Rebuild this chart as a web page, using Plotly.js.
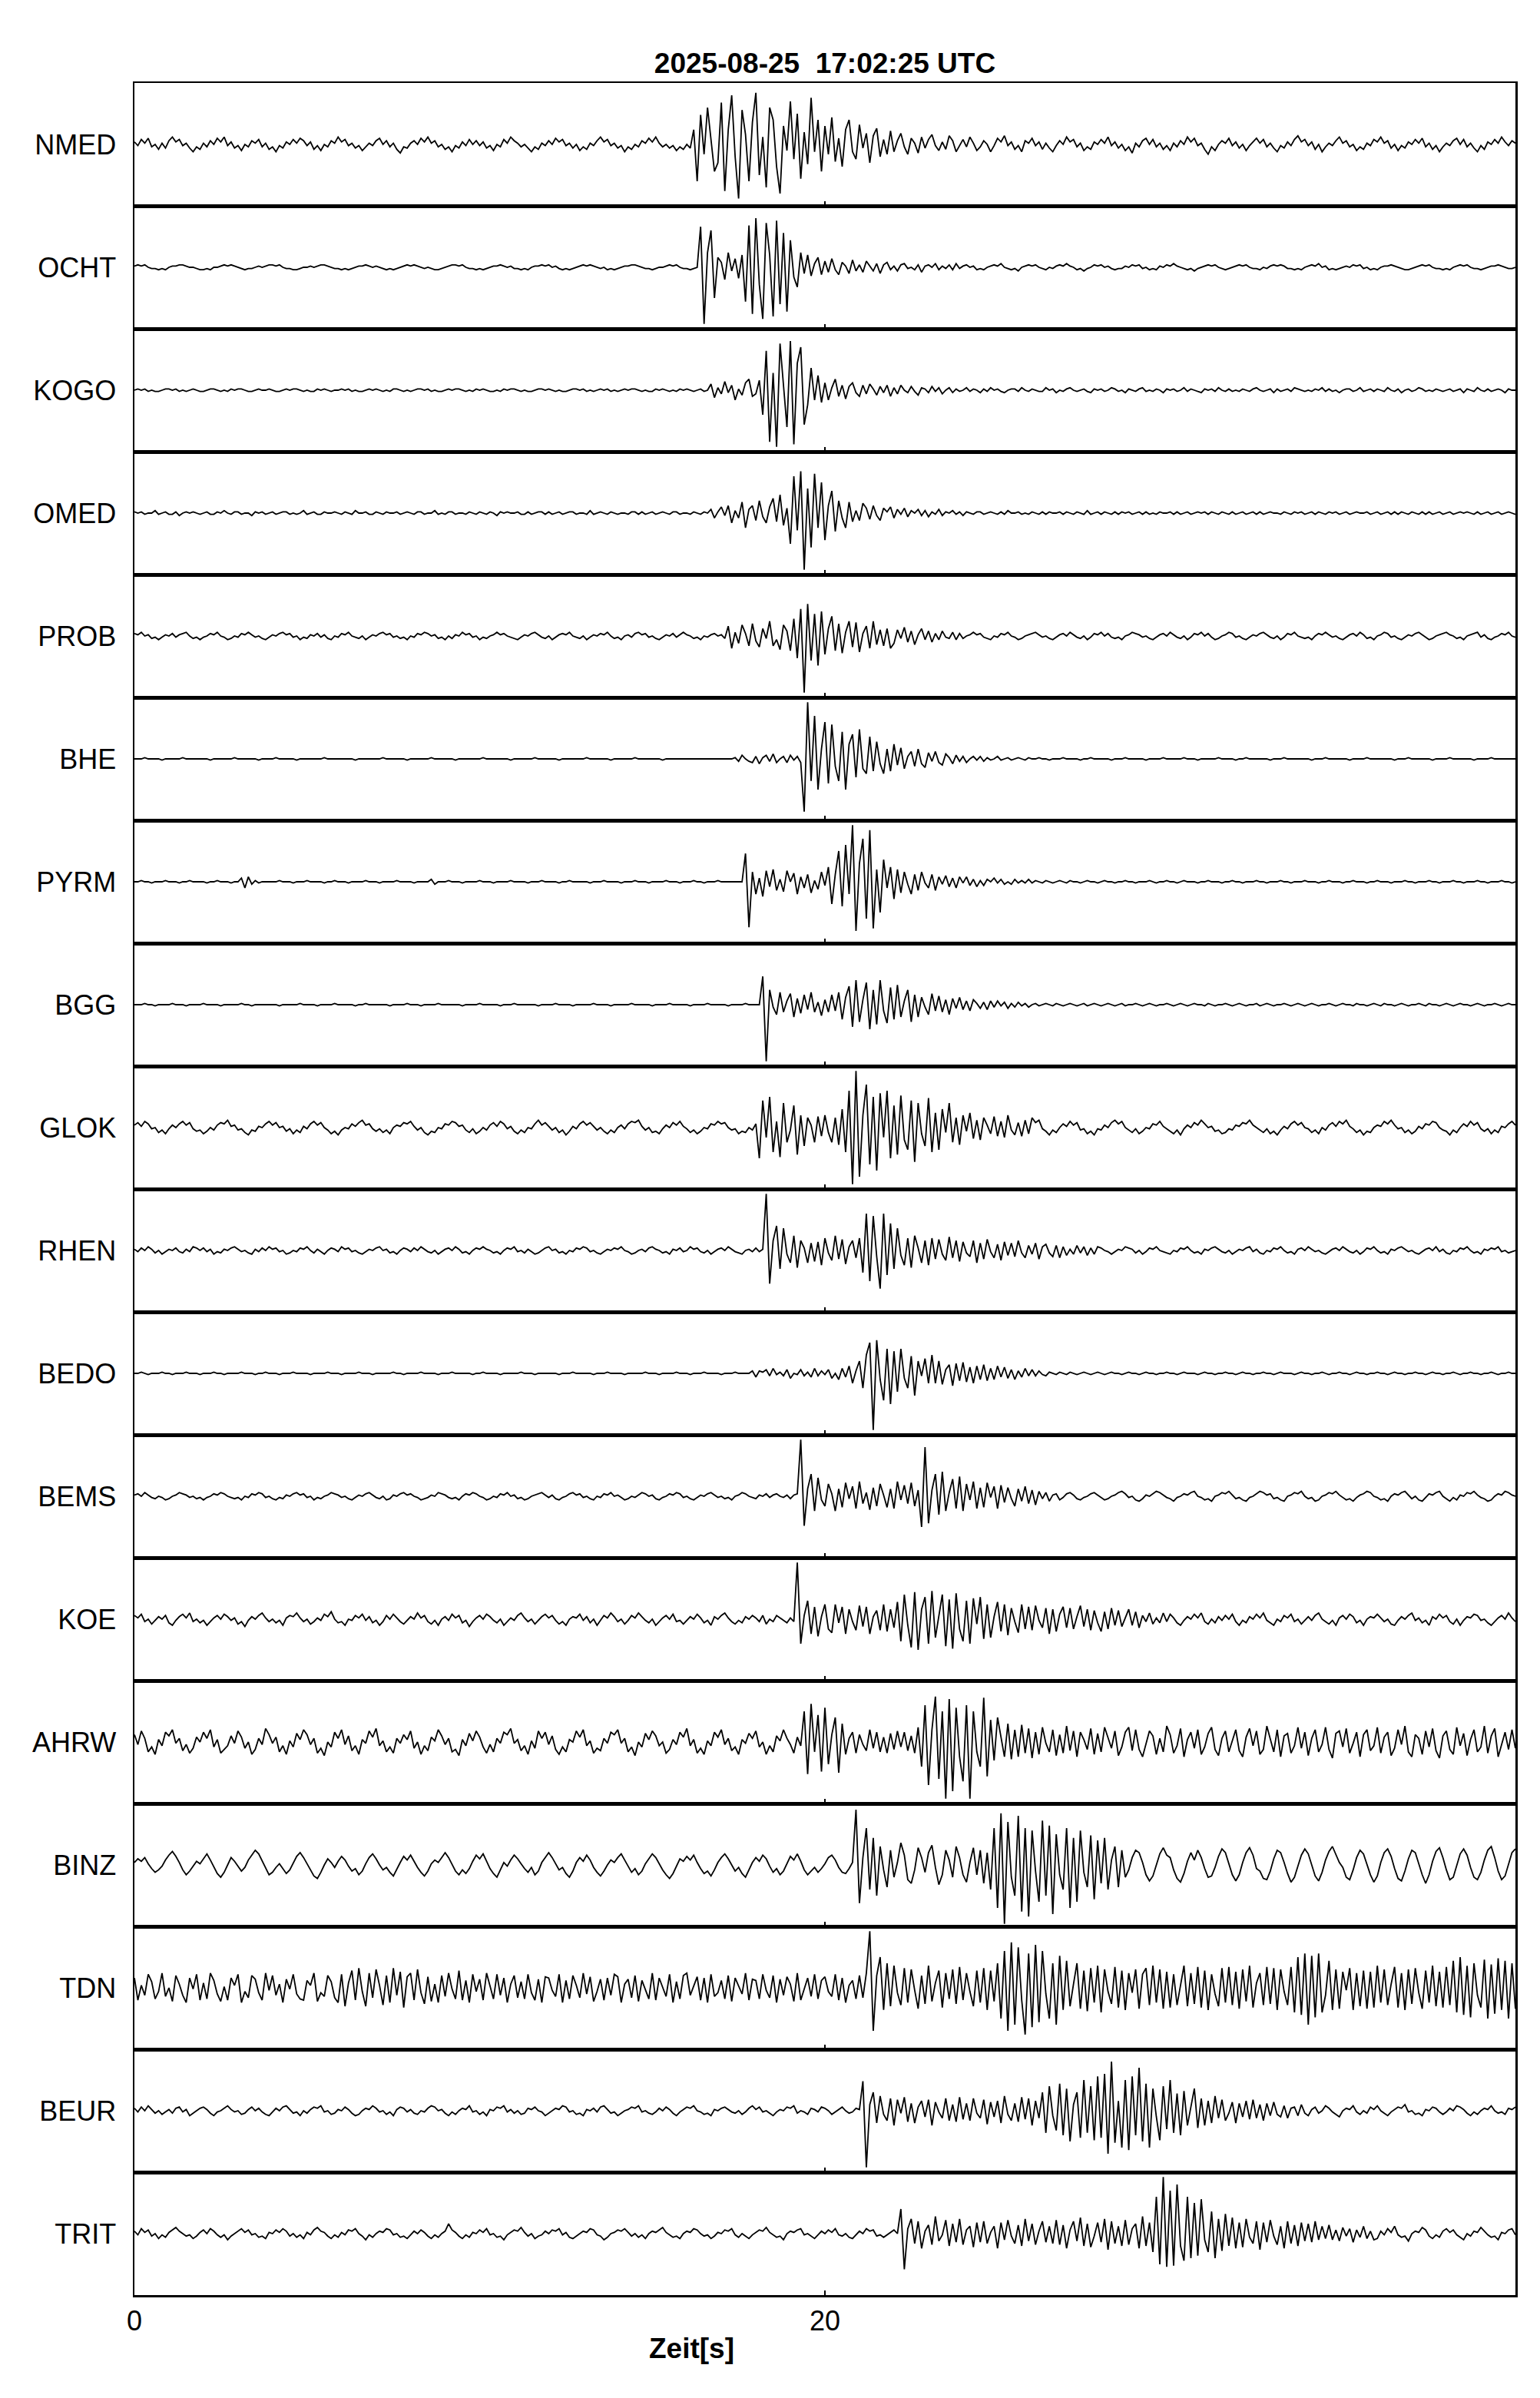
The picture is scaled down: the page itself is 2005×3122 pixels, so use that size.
<!DOCTYPE html>
<html><head><meta charset="utf-8">
<script src="https://cdn.plot.ly/plotly-3.0.1.min.js"></script>
<style>html,body{margin:0;padding:0;background:#fff}</style>
</head><body><div id="chart" style="width:2005px;height:3122px"></div>
<script>
// Station names, top to bottom
const stations = ['NMED','OCHT','KOGO','OMED','PROB','BHE','PYRM','BGG','GLOK','RHEN','BEDO','BEMS','KOE','AHRW','BINZ','TDN','BEUR','TRIT'];
// Sample interval of the traces (s); traces start at t = 0
const sampleInterval = 0.1;
// x-axis ticks
const xTickVals = [0, 20];
const xTickText = ['0', '20'];

// Relative amplitudes (panel half-height = 50)
const NMED = [
2,-1,4,1,5,-2,0,-4,1,-3,3,6,2,4,-1,1,-3,-6,-2,-4,
1,-2,3,0,5,2,6,-1,2,-3,-1,-5,0,-2,3,1,4,-2,1,-4,
-2,-6,-1,-3,2,0,4,1,5,3,-1,2,-4,-1,-5,0,-2,3,1,6,
2,4,-1,1,-3,-1,-5,-2,1,-1,3,5,0,3,-2,1,-4,-7,-2,-3,
1,3,0,5,2,6,1,3,-2,0,-4,-2,-6,-1,-3,2,-1,4,0,3,
-1,2,-3,-1,-5,0,-2,4,1,6,3,1,-2,0,-3,-6,-2,-4,1,-1,
3,0,5,2,4,-1,1,-3,0,-5,-2,-4,1,-1,3,6,2,4,-1,1,
-3,-1,-6,-2,-4,0,-2,3,1,5,2,6,1,-2,0,-3,-1,-5,-2,-4,
0,-3,12,-30,24,-8,30,5,-22,-15,34,-38,12,40,-10,-44,28,8,-30,18,
42,-25,6,-35,30,20,-18,-40,15,-5,35,-12,25,-28,10,-16,38,-6,20,-22,
15,-8,22,-14,5,-18,12,20,-6,-12,16,-3,9,-15,7,13,-10,4,-8,11,
-6,3,9,-2,-8,5,1,-7,6,-3,4,8,-1,-5,2,-4,7,3,-6,-1,
4,-2,6,1,-5,-2,3,0,-6,-1,5,2,7,-1,2,-4,-1,-6,3,1,
5,-1,2,-4,1,-3,-6,-1,3,0,6,2,4,-2,1,-5,-2,-4,2,0,
4,1,6,-1,2,-3,0,-5,-2,-7,1,-2,3,5,0,4,-2,1,-4,-1,
-5,1,-2,3,0,6,2,5,-1,1,-4,-8,-2,-5,0,3,1,5,-1,2,
-3,0,-5,-1,2,5,1,4,-2,1,-3,-6,-1,-3,2,-1,4,7,2,4,
-1,2,-4,0,-6,-2,1,-1,3,6,1,3,-2,0,-5,-2,-4,1,-1,4,
2,6,1,3,-3,0,-5,-1,-3,2,0,4,1,5,-2,1,-4,-1,-6,-2,
1,-1,3,5,0,4,-2,1,-3,-6,-1,-4,2,0,4,1,6,2,-1,3,
1];
const OCHT = [
1,2,1,2,0,-1,-1,-2,-1,-2,0,1,1,2,2,1,0,0,-1,-2,
-2,-1,-2,0,0,1,2,1,2,1,0,-1,-2,-1,-1,0,1,0,1,2,
2,1,2,0,-1,-1,-2,-2,-1,0,0,1,0,1,2,2,1,0,-1,-1,
-2,-1,-2,-1,0,1,1,2,1,0,1,0,-1,-2,-1,-2,-1,0,1,2,
1,2,1,0,-1,0,-1,-2,-2,-1,0,1,2,2,1,2,0,-1,-1,-2,
-1,-2,-1,0,1,1,2,1,0,1,-1,-1,-2,-1,-2,0,1,1,2,1,
2,0,1,-1,-2,-1,-2,-1,0,1,2,1,2,1,0,-1,0,-2,-1,-2,
-1,0,1,1,2,2,1,0,-1,-1,-2,-1,0,0,1,2,1,2,0,-1,
-1,-2,-1,0,33,-46,12,30,-25,8,4,-10,12,-3,7,-9,10,-28,34,-38,
40,-14,-42,36,10,-40,38,-30,28,-36,22,-8,-16,12,-5,10,-7,3,8,-6,
5,-4,7,-2,-6,4,1,-5,6,-3,2,-4,5,1,-3,3,-5,2,4,-2,
1,-3,2,3,-1,0,-2,2,-4,1,2,0,3,-2,1,-1,2,-2,3,-1,
1,2,0,1,-2,-1,-2,0,1,2,1,3,0,-1,-2,-1,-3,0,1,2,
1,2,0,-1,-2,0,-1,1,2,1,3,1,0,-2,-1,-3,-1,0,2,1,
2,0,1,-1,-2,-1,-1,1,0,2,1,2,-1,0,-2,-1,-2,1,0,2,
1,3,1,0,-1,-2,-1,-3,-1,0,1,2,1,2,0,-1,-2,-1,0,1,
2,1,2,0,-1,-1,-2,0,-1,1,2,1,2,1,-1,-1,-2,-1,-2,0,
1,2,1,3,0,1,-2,-1,-2,-1,0,1,0,2,1,2,-1,0,-2,-1,
-2,0,1,1,2,1,0,-1,-2,-2,-1,0,1,2,1,2,0,-1,-1,-2,
-1,-2,0,1,2,1,2,0,-1,-1,-2,-1,0,1,1,2,1,0,-1,-1,
0];
const KOGO = [
0,1,0,1,-1,0,-1,-1,0,1,1,0,1,-1,0,-1,0,1,0,-1,
-1,0,1,1,0,-1,0,-1,1,0,1,1,0,-1,-1,0,1,0,0,1,
0,-1,-1,0,1,0,1,1,0,-1,0,-1,-1,1,0,1,0,-1,0,0,
1,0,1,-1,0,-1,-1,0,1,0,1,0,-1,0,-1,1,1,0,-1,0,
-1,0,1,1,0,1,-1,0,-1,-1,0,1,0,1,1,0,-1,0,-1,1,
0,1,0,-1,-1,0,-1,1,0,1,1,0,-1,0,-1,-1,0,1,1,0,
1,0,-1,0,-1,-1,0,1,1,0,1,-1,0,-1,0,1,0,1,-1,0,
-1,0,1,0,1,1,0,-1,0,-1,-1,1,0,1,0,-1,0,-1,1,0,
1,0,-1,0,1,-1,0,5,-6,2,-3,7,-2,4,-8,1,-4,6,9,-5,
-3,8,-20,32,-42,14,-46,38,6,-30,40,-44,22,35,-28,-12,18,-8,12,-10,
6,-8,2,9,-5,4,-7,3,6,-2,-5,4,-3,5,1,-4,3,-2,4,-5,
2,-3,4,0,-2,3,-1,-4,2,1,-2,3,-1,2,-3,0,2,-2,1,-1,
0,2,-1,1,0,-2,1,-1,2,0,1,-1,-2,0,1,1,-1,2,0,-1,
1,0,-1,-1,2,0,1,-2,0,-1,1,2,0,-1,0,1,-1,-2,1,0,
1,-1,0,2,1,-1,0,-2,1,0,-1,1,2,-1,0,-1,1,0,-2,1,
0,1,-1,0,2,-1,1,0,-1,-2,1,0,1,-1,2,0,-1,1,-1,0,
-1,1,0,-1,1,2,0,-1,0,1,-2,1,-1,0,1,-1,2,1,0,-1,
0,-1,1,0,2,-1,1,-1,0,-2,0,1,1,-1,0,2,-1,0,1,-1,
1,0,-1,2,0,-1,1,-2,0,1,-1,0,2,1,-1,0,-1,1,0,-1,
0,1,-1,0,1,-2,1,0,-1,2,0,-1,1,-1,0,1,0,-2,1,0,
0];
const OMED = [
1,0,1,-1,0,0,2,-1,0,1,-1,-1,1,-2,0,1,0,1,0,-1,
0,1,-1,-1,1,0,2,0,-1,1,1,-1,0,0,-2,1,0,1,-1,0,
1,-1,0,1,1,-1,0,-1,0,2,-1,0,1,-1,-1,1,0,0,1,0,
-1,1,0,-1,2,0,0,1,-1,-1,1,0,-1,1,0,0,1,-1,0,1,
0,-1,1,1,-1,0,0,2,-1,0,-1,1,1,-1,0,0,-1,1,0,-1,
1,0,-1,1,0,-2,1,0,1,0,0,1,-1,-1,1,-1,0,1,1,-1,
1,-1,0,1,-1,0,1,1,-1,0,0,-1,2,-1,0,1,0,-1,1,0,
-1,0,0,-1,1,1,-1,1,-1,0,1,-1,0,1,0,-1,1,1,-1,0,
0,-1,1,0,-1,1,0,3,-4,1,5,-2,6,-8,2,-4,9,-12,3,6,
-6,10,-3,-8,5,12,-7,15,-10,4,-25,30,-14,34,-46,20,-28,32,-12,25,
-22,6,18,-15,10,-4,-12,9,-7,2,-6,8,4,-5,6,-2,-6,4,1,5,
-4,3,-1,4,-3,2,0,3,-2,2,-3,1,-1,3,-2,1,0,2,-1,1,
-2,1,0,-1,1,1,-1,0,1,0,-1,1,-1,2,0,0,1,-1,0,-1,
1,0,-1,1,-1,1,0,0,1,-1,1,0,-1,1,0,-1,2,-1,0,1,
-1,1,0,-1,1,-1,1,0,1,-1,0,1,-1,1,-1,0,-1,1,0,0,
1,-1,1,-1,0,1,-1,0,1,0,1,-1,1,0,-1,1,0,-1,1,-1,
0,1,-1,0,1,-1,1,-1,0,1,0,0,-1,1,0,-1,1,0,1,-1,
0,1,-1,1,0,-1,1,0,1,-1,0,1,-1,0,1,0,0,1,-1,0,
1,-1,0,1,-1,1,-1,1,0,-1,1,0,-1,1,-1,1,-1,0,1,-1,
0,1,-1,0,1,0,1,0,-1,1,-1,0,1,-1,0,1,-1,0,1,0,
-1];
const PROB = [
2,1,3,0,1,-2,-1,-3,-1,1,0,2,-1,1,2,3,0,-2,-1,-3,
-1,0,2,1,3,0,-1,-3,-2,0,-1,2,1,3,1,-1,0,-2,-3,-1,
1,0,2,3,1,2,-1,0,-3,-1,-2,1,0,2,-1,1,-2,-3,0,-1,
2,1,3,0,-1,-2,0,-3,-1,1,0,2,3,1,2,-1,0,-2,-1,-3,
0,-1,2,1,3,2,0,1,-2,-1,-3,0,-2,1,0,3,1,2,-1,0,
-3,-1,-2,0,1,3,1,2,0,-1,-2,-3,-1,1,0,2,3,1,-1,-2,
0,-3,-1,1,2,1,3,0,-1,-2,0,-3,-1,1,0,2,1,3,0,-2,
-1,-3,0,1,-1,2,3,1,2,-1,0,-2,-3,-1,1,0,2,-1,1,3,
1,0,-2,-1,-3,0,-1,1,2,0,1,-2,8,-10,3,-6,9,2,-8,10,
-4,-9,6,-2,12,-8,-3,-11,9,4,-12,14,-18,22,-46,26,-20,18,-24,20,
-15,6,16,-12,10,-14,3,12,-9,11,-13,2,8,-10,12,-7,5,-8,6,-10,
-6,5,-2,7,-5,4,-7,1,6,-3,4,-5,2,-3,4,-1,-2,3,-3,2,
-2,0,1,3,1,2,-1,-2,-3,0,-1,2,1,3,0,-1,-3,-2,0,1,
2,3,1,-1,0,-2,-3,-1,1,2,0,3,1,-1,-2,0,-3,-1,2,1,
3,0,2,-1,-2,-1,-3,0,1,3,2,1,-1,0,-2,-3,-1,1,2,0,
3,1,-1,-2,0,-3,-1,2,1,3,0,2,-1,-3,-2,0,1,3,2,-1,
0,-2,-3,-1,1,0,2,3,1,-1,-2,0,-3,-1,2,1,3,0,-1,-2,
-1,-3,0,2,1,3,1,-1,0,-2,-3,-1,1,2,0,3,1,-2,-1,-3,
0,1,3,2,-1,0,-2,-3,-1,1,0,2,3,1,-1,-3,-2,0,1,2,
3,1,0,-2,-1,-3,0,1,2,3,-1,1,-2,-3,-1,0,2,1,3,0,
-1];
const BHE = [
0,0,0,1,0,0,0,0,-1,0,0,0,0,0,1,0,0,0,0,0,
0,0,-1,0,0,0,0,0,0,1,0,0,0,0,0,0,-1,0,0,0,
0,1,0,0,0,0,0,-1,0,0,0,0,0,0,0,1,0,0,0,0,
0,0,0,0,-1,0,0,0,0,0,0,0,1,0,0,0,0,0,0,-1,
0,0,0,0,0,0,1,0,0,0,0,0,0,-1,0,0,0,0,0,0,
0,1,0,0,0,0,0,0,0,-1,0,0,0,0,0,0,1,0,0,0,
0,0,0,-1,0,0,0,0,0,0,0,1,0,0,0,0,0,0,-1,0,
0,0,0,0,0,1,0,0,0,0,0,0,0,-1,0,0,0,0,0,0,
0,0,0,0,0,0,0,0,0,0,0,0,0,0,1,-2,3,0,-2,-3,
2,-4,1,3,-2,4,-3,0,2,-3,3,-1,2,-3,-43,46,-18,35,-25,8,
30,-20,28,-6,-18,22,-25,12,20,-15,24,-8,-12,18,-10,14,-4,-12,8,-10,
12,-5,9,-8,2,6,-6,8,-4,-7,5,-2,6,-3,-5,4,1,-4,3,-2,
2,-3,0,2,-1,2,-2,1,-1,0,2,-1,0,1,-1,0,1,0,-1,1,
0,0,1,0,0,-1,0,0,0,1,0,0,0,0,-1,0,0,1,0,0,
0,0,0,-1,0,0,0,1,0,0,0,0,0,-1,0,0,0,0,1,0,
0,0,0,0,1,0,0,0,-1,0,0,0,0,0,1,0,0,0,0,-1,
0,0,1,0,0,0,0,0,0,-1,0,0,0,1,0,0,0,0,0,0,
0,-1,0,0,0,1,0,0,0,0,0,0,-1,0,0,0,0,1,0,0,
0,0,0,0,0,-1,0,0,0,1,0,0,0,0,0,0,-1,0,0,0,
0,1,0,0,0,0,0,0,-1,0,0,0,0,1,0,0,0,0,0,0,
0];
const PYRM = [
0,0,1,0,0,-1,0,0,0,1,0,0,0,-1,0,0,1,0,0,0,
0,-1,0,0,1,0,0,0,-1,0,0,3,-5,4,-2,1,-1,0,0,0,
0,0,1,0,0,0,-1,0,0,0,1,0,0,0,0,-1,0,0,1,0,
0,0,-1,0,0,0,0,1,0,0,0,-1,0,0,0,0,1,0,0,0,
0,-1,0,0,0,0,2,-2,0,0,0,1,0,0,0,-1,0,0,0,0,
1,0,0,0,-1,0,0,0,0,1,0,0,0,0,-1,0,0,0,1,0,
0,0,0,-1,0,0,1,0,0,0,0,0,-1,0,0,0,1,0,0,0,
0,-1,0,0,0,1,0,0,0,-1,0,0,0,0,1,0,0,0,-1,0,
0,0,1,0,0,-1,0,0,0,1,0,0,0,0,0,0,0,23,-37,8,
-10,3,-12,9,-4,10,-7,2,-8,9,0,7,-10,4,-5,6,-9,1,-6,8,
-3,12,-18,6,25,-20,30,-10,46,-40,15,35,-30,42,-38,10,-25,18,-5,12,
-14,10,-9,8,-2,-10,6,-7,8,-1,-5,6,-7,4,-2,5,-4,3,-5,4,
-1,4,-3,2,-4,1,-3,2,0,3,-1,2,-2,0,-2,2,-1,1,-1,2,
-1,1,0,-1,1,0,-1,0,1,0,-1,1,0,0,-1,0,1,0,0,-1,
0,1,0,0,-1,0,0,1,0,0,-1,0,0,0,1,0,-1,0,0,1,
0,0,-1,0,1,0,0,0,-1,0,0,1,0,0,0,-1,0,0,1,0,
0,-1,0,0,0,1,0,0,-1,0,0,0,1,0,0,-1,0,0,0,1,
0,0,0,-1,0,0,1,0,0,0,-1,0,0,1,0,0,0,-1,0,0,
1,0,0,0,-1,0,0,0,1,0,0,-1,0,0,0,1,0,0,-1,0,
0,0,1,0,0,-1,0,0,0,1,0,0,-1,0,0,0,1,0,0,-1,
0];
const BGG = [
0,0,0,1,0,0,-1,0,0,0,0,1,0,0,0,-1,0,0,0,0,
1,0,0,0,0,-1,0,0,0,0,0,1,0,0,-1,0,0,0,0,0,
0,0,-1,0,0,0,0,0,1,0,0,0,0,-1,0,0,0,0,1,0,
0,0,0,0,-1,0,0,1,0,0,0,0,0,0,-1,0,0,0,0,1,
0,0,0,-1,0,0,0,0,1,0,0,0,0,0,0,-1,0,0,0,0,
1,0,0,0,0,0,-1,0,0,0,1,0,0,0,0,0,0,-1,0,0,
0,0,1,0,0,0,0,-1,0,0,0,0,0,1,0,0,0,0,-1,0,
0,0,0,0,1,0,0,0,0,0,-1,0,0,0,0,1,0,0,0,0,
0,-1,0,0,0,0,1,0,0,0,0,0,-1,0,0,0,0,1,0,0,
0,0,23,-46,12,-2,-8,10,-6,3,9,-10,5,-7,8,-4,10,-6,2,-9,
4,-6,8,-5,10,-12,6,15,-18,20,-14,4,18,-20,12,-16,20,-5,-15,14,
-12,16,-10,3,12,-14,8,-10,6,-2,-8,9,-5,7,-6,4,-8,5,-3,6,
-4,3,-5,4,1,-3,2,-4,3,-2,3,-1,2,-3,1,-2,2,-1,1,-2,
0,1,-1,0,1,0,-1,1,0,-1,0,1,0,-1,0,1,-1,0,1,0,
-1,0,1,0,-1,0,1,-1,0,0,1,0,-1,0,1,0,-1,0,0,1,
0,-1,0,1,0,-1,0,1,0,0,-1,1,0,-1,0,0,1,0,-1,0,
1,0,-1,0,0,1,-1,0,1,0,-1,0,0,1,0,-1,0,1,0,-1,
0,1,0,-1,0,0,1,0,-1,0,1,0,0,-1,1,0,0,-1,0,1,
0,-1,1,0,0,-1,0,1,0,-1,0,0,1,0,-1,1,0,0,-1,0,
1,0,-1,0,1,0,0,-1,0,1,0,-1,0,0,1,0,-1,0,1,0,
0];
const GLOK = [
2,4,1,5,3,-1,0,-4,-2,-5,-1,2,0,3,5,2,4,-1,-3,-2,
-5,-3,0,-2,2,4,3,6,1,2,-2,-1,-4,-6,-2,-3,1,0,3,5,
2,4,0,1,-3,-1,-5,-2,-4,1,-1,3,5,2,4,0,-2,-5,-3,-6,
-2,0,-1,3,1,4,6,2,3,-1,-3,-1,-4,-2,-5,0,2,1,4,3,
5,1,-2,0,-4,-6,-3,-4,0,-1,3,2,5,4,1,2,-2,-4,-1,-5,
-3,0,-2,2,4,1,5,3,-1,1,-3,-5,-2,-4,0,-1,3,6,2,4,
1,-2,0,-4,-2,-6,-3,1,-1,3,5,2,4,1,-2,0,-3,-5,-2,-4,
0,2,-1,3,5,4,6,1,-2,0,-4,-3,-5,-1,2,0,4,2,5,1,
-1,-4,-2,-5,-3,0,-1,3,2,5,3,4,0,-2,-1,-5,-3,-4,0,-2,
3,-25,22,-8,25,-20,5,-24,20,-12,-2,18,-22,10,-15,8,2,-12,9,-7,
10,-4,-12,8,-14,15,-20,30,-46,46,-40,10,35,-30,25,-35,28,-8,30,-25,
18,-22,26,-10,-18,22,-28,20,-5,-15,24,-20,12,-18,15,-4,20,-12,8,-14,
10,-3,12,-9,6,-10,8,2,-5,9,-7,5,-8,10,-2,-6,4,-7,6,-5,
8,4,6,-1,-3,-6,-2,-4,0,3,1,5,2,4,-2,-1,-5,-3,-6,-1,
-2,2,0,4,6,3,5,0,-2,-4,-1,-5,-3,0,-1,3,2,5,1,-1,
-3,-5,-2,-6,-1,2,0,4,2,6,3,0,1,-3,-2,-5,-4,-1,-2,2,
1,4,3,6,2,0,-2,-4,-1,-5,-3,-6,-2,1,-1,3,5,2,4,0,
-1,-4,-2,-5,0,-2,2,4,1,5,3,6,1,-1,-4,-2,-6,-3,-4,0,
2,1,5,3,6,2,-1,0,-4,-2,-5,-3,1,-1,3,2,5,4,0,-2,
-3,-6,-2,-4,0,3,1,5,2,4,-1,-3,-1,-5,-2,-4,1,0,3,5,
2];
const RHEN = [
1,-1,2,0,3,1,-2,0,-3,-1,1,0,2,-1,-2,1,-1,3,2,0,
2,-1,1,-3,-1,-2,1,0,2,3,1,-1,0,-2,-3,1,-1,2,0,3,
1,2,-1,0,-3,-2,0,-1,2,1,3,0,-2,1,-1,-3,0,2,1,-1,
3,1,2,-1,0,-2,-3,-1,1,0,2,3,0,1,-2,-1,-3,0,2,1,
-1,2,0,3,1,-1,-2,0,-3,-1,1,2,0,3,1,-2,-1,-3,0,2,
1,3,1,0,-2,-1,-3,0,2,1,3,-1,0,-2,1,-1,-3,-2,0,2,
3,0,1,-2,-1,-3,0,-1,2,1,3,2,-1,0,-2,-3,-1,1,0,2,
1,3,0,-1,-3,-2,0,1,-1,2,3,1,0,-2,-1,-3,1,0,2,-1,
0,3,1,2,-1,-2,0,-3,-1,1,2,0,3,1,-1,-2,-3,0,1,-1,
2,-1,1,46,-27,8,20,-15,18,-3,-10,12,-14,8,2,-10,6,-9,7,-12,
10,-2,-8,12,-7,9,-11,3,8,-6,10,-18,30,-25,28,-5,-31,30,-20,22,
-15,18,-4,-12,10,-14,12,2,-10,8,-12,10,-7,9,-3,-8,11,-6,8,-9,
7,-2,-5,8,-10,6,-7,9,-1,-6,5,-8,7,-4,6,-5,8,-2,-6,4,
-3,6,-7,3,5,-2,-5,4,-6,3,-4,1,-3,4,-2,3,-4,2,-3,3,
2,0,-1,-3,-1,1,0,3,2,1,-2,0,-3,-1,2,1,3,0,-1,-2,
-3,0,-1,2,1,3,0,-2,-1,-3,1,0,2,3,1,-1,-2,0,-3,-1,
1,0,2,3,-1,1,-2,-3,0,-1,2,1,3,0,-2,-1,-3,1,2,0,
3,1,-1,0,-2,-3,-1,1,2,0,3,1,-1,-2,0,-3,-1,2,1,3,
0,-2,-1,-3,1,0,2,3,1,-1,0,-2,-3,-1,1,2,0,3,-1,1,
-2,-3,0,-1,2,1,3,0,-2,-1,-3,1,0,2,1,3,-1,0,-2,-1,
0];
const BEDO = [
0,0,1,0,-1,0,0,0,1,0,0,-1,0,0,0,1,0,0,0,-1,
0,0,0,1,0,0,-1,0,0,0,0,1,0,0,0,-1,0,0,1,0,
0,0,-1,0,0,0,1,0,0,0,0,-1,0,0,0,0,1,0,0,0,
-1,0,0,0,0,1,0,0,0,-1,0,0,0,0,0,1,0,0,-1,0,
0,0,0,1,0,0,0,0,-1,0,0,0,1,0,0,0,0,0,-1,0,
0,1,0,0,0,0,-1,0,0,0,0,0,1,0,0,0,-1,0,0,0,
0,0,0,-1,0,0,0,1,0,0,0,0,0,-1,0,0,0,1,0,0,
0,0,-1,0,0,0,0,0,1,0,0,0,-1,0,0,0,0,1,0,0,
0,-1,0,0,0,1,0,0,0,0,-1,0,0,0,1,0,0,0,0,2,
-3,2,1,3,-2,4,-1,1,-2,3,-4,0,-1,3,-2,1,-3,4,-2,2,
-1,3,-4,0,-5,4,-3,6,-8,2,10,-12,15,25,-46,27,-5,-22,20,-25,
18,-15,20,-4,-12,14,-18,10,-2,12,-8,15,-8,10,-9,3,7,-10,8,-6,
9,-7,5,-8,6,-5,7,-6,4,-5,6,-3,5,-4,3,-5,2,-3,4,-2,
3,-2,2,-1,-2,1,0,-1,1,0,-1,1,0,-1,0,1,0,-1,0,1,
0,-1,0,1,0,0,-1,0,1,0,0,-1,0,1,0,0,-1,0,0,1,
0,0,-1,0,1,0,0,0,-1,0,1,0,0,-1,0,0,1,0,0,-1,
0,1,0,0,-1,0,0,1,0,0,-1,0,1,0,0,0,-1,0,1,0,
0,-1,0,0,1,0,-1,0,0,1,0,0,-1,0,1,0,0,-1,0,0,
1,0,0,-1,0,1,0,0,-1,0,0,1,0,0,-1,0,1,0,0,-1,
0,0,1,0,-1,0,0,1,0,0,-1,0,0,1,0,-1,0,0,1,0,
0];
const BEMS = [
1,2,0,3,1,-1,-2,0,-1,-3,-2,0,1,3,2,1,-1,0,-2,-1,
-3,-1,0,2,1,3,2,0,-1,-2,-1,-3,0,-1,2,1,3,2,-1,0,
-2,-3,-1,-2,1,0,2,3,1,2,-1,0,-3,-1,-2,0,1,3,2,1,
-1,0,-2,-3,-1,1,0,2,3,1,-1,-2,0,-3,-2,1,0,2,3,1,
2,0,-1,-3,-2,-1,1,0,3,2,1,-1,-2,-1,-3,0,2,1,3,2,
0,-1,-3,-2,0,-1,2,1,3,0,1,-2,-1,-3,-2,0,1,2,3,1,
-1,1,-2,-3,-1,0,2,3,1,2,-1,0,-2,-3,0,-1,2,1,3,0,
1,-1,-3,-2,0,-1,1,3,2,0,1,-2,-3,-1,0,2,1,3,2,-1,
0,-2,-3,-1,1,0,2,3,1,-1,0,-2,-1,-3,0,1,3,2,0,-1,
-2,1,0,2,-1,1,2,0,-1,1,-2,1,2,46,-24,6,18,-12,15,-3,
-8,10,2,-12,6,-9,11,-2,8,-10,12,-6,3,-11,7,-8,10,1,-9,6,
-10,12,-3,9,-6,11,-8,5,-25,40,-22,5,18,-15,20,-12,3,14,-10,16,
-12,10,-3,12,-10,7,-9,11,-1,8,-10,9,-5,7,-2,-8,6,-4,8,-6,
5,-7,4,-2,3,-4,1,2,-3,-1,2,3,1,-2,-3,-1,0,2,3,1,
-1,-3,-2,0,1,3,4,2,-1,0,-3,-4,-2,1,0,2,4,3,1,-1,
-2,-4,-1,0,2,1,3,4,0,-1,-3,-2,-4,0,1,3,2,4,1,-2,
-1,-3,-4,-1,0,2,4,3,1,2,-2,-1,-3,-4,0,1,3,2,4,0,
-2,-1,-4,-3,0,1,3,2,4,1,-1,-3,-2,-4,-1,1,2,4,3,0,
-1,-3,-2,-4,0,2,1,3,4,1,-2,0,-3,-4,-1,2,1,3,4,0,
-2,-4,-1,-3,1,0,3,2,4,1,-1,-2,-4,-3,0,2,1,4,3,1,
0];
const KOE = [
3,1,4,-2,0,-4,-1,2,0,3,-3,-5,-1,2,4,1,5,-2,0,-3,
-1,-5,-2,1,3,0,4,2,-1,1,-4,-2,-6,-1,2,0,3,5,1,-2,
0,-3,-1,-5,1,3,2,5,1,-2,0,-4,-2,1,-1,4,2,6,0,-3,
-2,-5,0,-1,3,1,4,-1,2,-3,-1,-5,-2,3,0,4,1,-2,-4,-1,
2,0,5,1,3,-2,-4,-1,-5,0,2,-1,4,1,3,-3,-1,-6,-2,1,
3,0,4,2,-1,-3,0,-5,-2,1,-1,3,5,1,-2,0,-4,-1,2,4,
1,3,-1,-4,-2,-5,0,2,1,4,-1,2,-3,0,-5,-1,3,1,5,2,
-2,0,-4,-1,3,1,5,2,-1,-3,0,-5,-2,1,3,0,4,-2,-1,-4,
-1,2,0,4,1,-3,-1,-5,2,0,3,5,1,-2,-4,-1,-3,2,0,3,
1,-2,3,-4,0,-2,3,1,-1,-3,1,-2,46,-20,3,15,-12,10,-14,2,
12,-8,-11,12,-3,10,-12,8,-2,-9,11,-6,10,-12,2,7,-9,12,-10,8,
-7,14,-18,20,-5,-23,22,-25,8,18,-20,23,-15,3,20,-22,16,-24,21,-8,
-18,15,-20,17,-4,18,-16,12,-15,2,14,-10,12,-13,9,-2,-11,12,-8,10,
-9,11,-1,-7,9,-12,8,-10,4,10,-7,9,-8,2,11,-6,8,-9,7,-3,
-10,6,-8,9,-5,7,-6,1,8,-5,6,-7,3,-2,5,-4,1,-3,5,-2,
4,1,-3,-5,-1,2,0,4,1,5,-2,-4,0,-3,2,-1,3,0,4,-2,
-5,-1,-3,2,0,4,1,5,-1,-3,-5,0,-2,3,1,4,-2,0,-4,-1,
2,-1,3,5,0,-2,-4,-1,-5,1,3,0,4,2,-3,-1,-5,0,2,1,
4,1,-2,0,-4,-5,-1,2,0,3,5,-1,1,-3,-1,-5,2,0,4,1,
3,-2,-4,0,-5,-1,2,1,4,3,-1,0,-3,-5,-2,1,3,0,5,1,
-2];
const AHRW = [
6,-2,9,3,-8,-4,-10,2,-3,8,5,10,-1,3,-7,-2,-9,-5,4,0,
8,3,10,-4,2,-9,-6,-3,5,-1,9,4,-5,0,-10,-6,3,-2,11,6,
-1,4,-8,-3,-10,1,-4,7,2,10,6,-2,3,-9,-5,-11,0,-4,8,3,
10,-2,5,-7,-3,-10,2,-1,9,4,11,-3,1,-8,-4,-9,3,-1,6,2,
9,-5,0,-10,-3,-7,4,1,10,5,-2,3,-8,-6,-11,2,-3,7,1,9,
4,-4,-9,-2,-8,3,-1,8,6,11,-1,2,-7,-3,-10,1,-5,9,3,8,
-2,5,-6,-10,-4,-8,2,0,9,4,10,-3,1,-9,-5,-7,3,-1,8,6,
10,-1,3,-8,-4,-11,0,-4,7,2,9,5,-3,0,-9,-6,2,-2,8,4,
11,-3,2,-9,-5,-10,1,-3,8,4,10,-2,3,-7,-4,-10,2,-1,7,3,
9,-4,0,-10,-3,-8,5,1,10,3,-2,-9,4,-3,25,-26,31,-8,22,-24,
28,-18,6,20,-25,15,-10,3,8,-9,6,-2,-7,10,-5,8,-8,4,-9,7,
-6,9,-4,8,-7,5,-9,12,-20,30,-35,10,37,-30,25,-46,35,-40,28,-12,
-32,30,-46,25,-8,-20,36,-28,18,-15,20,4,-12,15,-14,10,-12,14,-9,11,
-13,8,-10,12,-1,-8,10,-11,6,-9,13,-7,9,-12,8,2,-6,11,-10,7,
-8,12,3,-5,9,-11,-4,8,12,-7,10,-6,-12,-2,9,5,-10,3,-8,13,
6,-9,-3,11,-12,2,8,-5,10,-10,-4,7,12,-6,-11,3,9,-8,1,10,
-7,-12,4,11,-3,9,-10,-6,13,2,-8,10,-12,5,7,-9,-3,12,-5,8,
-11,3,10,-8,-2,12,-6,-13,7,9,-4,11,-9,-1,8,-12,6,10,-7,-3,
12,-9,4,8,-11,-5,10,-2,13,-8,-12,6,3,-10,9,-4,11,-7,-13,5,
9,-6,-10,12,-3,7,-11,2,10,-8,-4,13,-9,5,11,-12,-2,8,-6,10,
-5];
const BINZ = [
2,5,3,6,1,-3,-6,-4,-1,4,8,11,7,2,-4,-8,-5,-1,3,1,
5,9,4,-2,-7,-10,-6,0,6,3,-1,-5,-2,4,8,12,9,3,-3,-8,
-6,-2,1,-3,-7,-4,2,7,10,6,1,-4,-9,-11,-6,0,5,2,-2,3,
7,4,-1,-5,-3,-8,-5,1,6,9,5,0,-4,-2,-6,-9,-3,2,7,4,
8,3,-2,-6,-9,-5,1,4,2,6,10,6,0,-5,-8,-4,-7,-3,3,8,
5,9,3,-3,-7,-10,-4,2,-1,4,8,5,1,-3,-6,-2,-8,-5,2,6,
10,6,1,-4,-2,-7,-10,-5,2,6,3,8,4,-2,-6,-9,-5,0,4,2,
6,9,4,-1,-6,-3,-8,-5,1,5,9,6,1,-4,-8,-11,-7,-1,5,3,
7,4,8,2,-3,-7,-5,-9,-4,2,6,9,5,0,-5,-2,-7,-10,-4,2,
6,3,8,5,-1,-6,-3,-8,-5,1,7,4,9,3,-4,-8,-5,-2,-6,-3,
1,6,8,4,-2,-6,-7,-3,2,45,-31,6,30,-20,22,-25,15,-4,-18,12,
-10,2,18,8,-12,-15,-4,14,6,-6,10,16,-2,-16,-8,12,4,-10,15,6,
-8,-14,2,14,-8,12,-15,10,-20,30,-35,42,-48,35,-10,-25,40,-38,30,-42,
28,-5,-30,36,-25,32,-40,25,-8,-20,30,-35,22,-30,28,-6,-18,24,-28,20,
-15,22,-20,4,15,-18,12,-10,-4,6,12,10,2,-8,-13,-9,0,9,14,8,
6,-4,-11,-14,-7,3,10,4,12,6,-3,-10,-9,-2,7,13,10,1,-8,-13,
-8,2,10,14,8,-3,-5,-11,-12,-5,5,12,10,2,-7,-14,-10,-1,8,13,
9,0,-9,-13,-6,4,11,15,8,2,-2,-10,-12,-4,6,12,9,0,-8,-14,
-9,2,10,13,7,-3,-11,-13,-5,5,12,10,1,-8,-15,-8,3,11,14,6,
-4,-12,-10,0,9,13,8,-2,-10,-12,-6,4,12,15,6,-5,-12,-9,1,10,
13];
const TDN = [
8,-10,2,-6,11,5,-9,-3,12,-7,0,-11,10,3,-6,-12,8,-1,11,-10,
4,-9,12,6,-5,-11,1,-10,8,2,11,-12,-3,-8,10,7,-4,-10,12,-2,
10,-6,3,-12,7,-1,11,-5,-9,-10,6,2,12,-11,-4,-7,10,5,-8,-12,
11,-15,4,14,-10,16,-3,-15,12,-8,15,2,-14,10,-12,16,-6,13,-16,9,
12,-10,15,-4,-13,9,-11,3,-12,10,-7,12,-1,-9,14,-10,6,-12,11,-3,
7,-10,12,1,-9,11,-6,8,-12,3,10,-8,5,-9,11,-4,-10,7,-12,9,
8,-2,-7,11,-12,6,-9,10,2,-8,12,-5,9,-11,-3,7,-10,8,-6,11,
9,-12,3,7,-8,10,-11,6,-2,-9,12,-10,8,1,-7,11,-12,5,-9,10,
12,-6,1,9,-10,8,-12,11,-7,-4,6,-9,10,-11,8,2,-5,12,-10,7,
6,-9,11,-2,-8,10,-12,7,-6,9,3,-11,12,-10,-1,8,-7,11,-9,6,
9,-3,-7,11,-10,8,-12,2,6,-9,10,-8,12,46,-35,10,25,-18,20,-15,
18,-4,-14,16,-12,15,-2,-17,10,-13,18,-11,4,14,-16,12,-9,15,-13,17,
-10,12,-3,-15,14,-12,16,-18,14,-11,20,-25,30,-35,37,-30,33,-10,-38,28,
-32,35,-28,30,-5,-25,20,-30,26,-18,22,-15,3,20,-17,14,-19,16,-12,18,
-20,15,-3,-13,17,-16,14,-18,12,-4,15,-17,11,16,-14,18,-12,15,-17,13,
-16,11,-14,2,18,-15,12,-13,17,-16,14,-18,11,-5,-15,16,-12,17,-14,13,
-17,15,-11,18,-16,4,12,-14,17,-13,16,-18,15,-3,-14,17,-20,25,-22,28,
-30,26,-24,28,-20,-6,22,-18,15,-17,13,-2,16,-18,12,-15,14,-17,13,-16,
18,-12,15,-14,3,17,-16,12,-18,15,-13,16,-4,-17,14,-12,18,-15,13,-16,
17,-14,22,-20,25,-22,18,-24,20,-6,-16,23,-25,19,-21,24,-18,22,-25,20,
-17];
const BEUR = [
2,-1,3,0,4,1,-2,0,-3,-1,1,-2,2,3,-1,1,-4,-2,0,2,
3,1,-2,-4,-1,0,2,4,1,-1,0,-3,-2,1,3,0,2,-1,-3,-4,
-1,2,0,3,4,1,-2,-1,-4,0,-2,1,3,2,4,-1,0,-3,-2,1,
0,3,1,-2,-4,-3,0,2,1,4,2,-1,0,-3,-1,-4,1,3,2,-1,
1,-2,-3,0,-1,2,4,3,0,1,-2,-4,-1,-3,0,2,1,4,-1,0,
-3,-1,-4,1,0,3,2,4,-1,1,-2,0,-3,-2,2,1,3,0,-1,-4,
-2,0,2,1,4,3,-1,0,-3,-2,-4,1,0,2,-1,3,4,1,-2,-1,
-4,-2,0,1,3,2,4,-1,0,-2,-3,-1,2,0,3,1,-2,-4,-1,1,
3,2,4,0,-1,-3,-2,-4,1,0,2,3,1,-1,-2,0,-3,-1,2,4,
1,3,-1,0,-2,-4,-1,1,0,3,2,4,-2,0,-1,-3,2,1,-1,3,
2,0,-3,-1,1,3,0,-2,-1,2,1,24,-46,5,15,-10,12,-3,-8,10,
-12,9,-2,11,-9,6,-10,3,8,-5,9,-12,7,-1,-6,10,-8,5,-9,11,
-7,6,-8,10,-2,-6,9,-11,7,-5,8,-10,12,-3,-8,6,-9,11,-7,10,
-12,8,-6,15,-18,20,-4,-16,22,-20,18,-25,5,15,-22,25,-18,20,-24,28,
-22,30,-35,40,-26,8,-30,25,-32,28,-20,35,-25,22,-30,18,-5,-24,20,-15,
25,-18,14,-20,16,-12,3,18,-14,10,-12,8,-10,12,-6,9,-8,-2,7,-10,
6,-5,8,-7,9,-6,5,-8,6,-4,7,-3,-5,4,-6,2,3,-4,5,-2,
-4,1,3,-2,0,4,2,-1,-3,-5,0,2,1,4,-1,-3,0,-2,3,1,
4,0,-2,-4,-1,1,3,2,5,-1,0,-3,-2,-4,1,0,3,2,-1,-3,
-1,2,0,4,3,1,-2,-4,-1,-3,0,2,1,4,0,-2,-1,-3,2,1,
3];
const TRIT = [
2,-1,4,1,3,-2,0,-4,-1,-3,1,3,5,2,0,-2,-1,-4,-2,1,
3,0,4,2,-1,-3,-1,-5,-2,0,2,4,1,3,-1,0,-3,-2,-4,1,
0,3,1,4,2,-2,0,-3,-1,-4,1,-1,3,5,2,1,-2,-4,-1,-3,
1,-1,3,2,4,0,-2,-5,-1,-3,0,2,1,4,3,-1,0,-3,-2,-4,
-1,2,0,3,1,-2,-4,-1,-3,0,2,8,3,1,-2,-4,-1,-3,1,0,
3,1,4,-1,0,-3,-2,-5,-1,1,3,2,5,1,-2,0,-4,-2,-1,2,
0,3,2,4,-1,1,-3,-4,-2,0,2,1,4,3,-1,-2,-5,-3,0,1,
3,2,4,1,-2,0,-3,-1,-4,0,2,1,3,5,1,-1,-3,-2,-4,0,
2,1,4,3,0,-2,-1,-4,-2,1,0,3,2,4,-1,-3,0,-2,-4,-1,
1,3,2,5,1,-1,-3,-2,-5,0,2,1,3,4,-1,0,-2,-4,-1,2,
0,3,1,4,-1,-2,0,-3,-4,-1,2,0,4,2,3,-2,-1,-3,-1,1,
3,0,20,-29,4,12,-8,10,-12,2,7,-9,14,-6,-1,11,-10,8,-7,12,
-9,3,6,-11,9,-7,10,-8,1,6,-12,9,-5,11,-2,-8,7,-10,12,-6,
8,-9,2,10,-7,6,-8,11,-9,7,-12,3,10,-6,13,-10,8,-11,-2,9,
-7,12,-13,10,-8,6,-10,11,-9,4,8,-12,14,-10,9,-15,30,-25,46,-27,
35,-26,40,-10,-22,30,-20,25,-18,28,-5,-15,18,-20,12,-14,16,-10,13,-12,
9,-11,12,-3,-8,10,-13,9,-7,11,-2,-9,6,-12,10,-8,7,-10,9,-6,
8,-7,10,-5,6,-4,7,-5,3,-6,5,-2,4,-7,3,-3,6,-4,2,-5,
-4,2,-1,4,1,6,-1,-3,-2,-6,0,2,1,5,3,-2,-4,-1,-3,2,
4,1,3,-1,-3,-5,0,-2,2,1,5,2,-1,-3,-2,-5,1,0,3,4,
-1];

const series = [NMED, OCHT, KOGO, OMED, PROB, BHE, PYRM, BGG, GLOK, RHEN, BEDO, BEMS, KOE, AHRW, BINZ, TDN, BEUR, TRIT];

const n = stations.length;
const fontFamily = 'Liberation Sans, Arial, Helvetica, sans-serif';
const traces = [];
const layout = {
  width: 2005, height: 3122,
  margin: {l: 175, r: 32, t: 108, b: 134, pad: 0},
  paper_bgcolor: '#ffffff', plot_bgcolor: '#ffffff',
  font: {family: fontFamily, size: 36, color: '#000000'},
  showlegend: false,
  hovermode: false,
  title: {
    text: '<b>2025-08-25\u00a0\u00a017:02:25 UTC</b>',
    font: {family: fontFamily, size: 37, color: '#000000'},
    xref: 'paper', x: 0.5, xanchor: 'center',
    yref: 'container', y: 1 - 82 / 3122, yanchor: 'middle'
  },
  annotations: [{
    text: '<b>Zeit[s]</b>', showarrow: false,
    xref: 'paper', yref: 'paper',
    x: (900 - 175) / 1798, y: -(3057 - 2988) / 2880,
    xanchor: 'center', yanchor: 'middle',
    font: {family: fontFamily, size: 37, color: '#000000'}
  }]
};

for (let k = 0; k < n; k++) {
  const sfx = k === 0 ? '' : String(k + 1);
  const vals = series[k];
  const t = vals.map((_, i) => i * sampleInterval);
  traces.push({
    type: 'scatter', mode: 'lines',
    x: t, y: vals,
    xaxis: 'x' + sfx, yaxis: 'y' + sfx,
    line: {color: '#000000', width: 1.8},
    hoverinfo: 'skip', showlegend: false
  });
  layout['xaxis' + sfx] = {
    domain: [0, 1], range: [0, 40], anchor: 'y' + sfx,
    showline: true, mirror: true, linecolor: '#000000', linewidth: 2.5,
    showgrid: false, zeroline: false,
    ticks: 'inside', ticklen: 6, tickwidth: 2, tickcolor: '#000000',
    tickmode: 'array', tickvals: xTickVals, ticktext: xTickText,
    showticklabels: k === n - 1,
    tickfont: {family: fontFamily, size: 36, color: '#000000'},
    fixedrange: true
  };
  layout['yaxis' + sfx] = {
    domain: [1 - (k + 1) / n, 1 - k / n], range: [-50, 50], anchor: 'x' + sfx,
    showline: true, mirror: true, linecolor: '#000000', linewidth: 2.5,
    showgrid: false, zeroline: false,
    ticks: '', tickmode: 'array', tickvals: [0], ticktext: [stations[k]],
    ticklabelstandoff: 14,
    tickfont: {family: fontFamily, size: 36, color: '#000000'},
    fixedrange: true
  };
}

Plotly.newPlot('chart', traces, layout, {displayModeBar: false, staticPlot: true});
</script>
</body></html>
